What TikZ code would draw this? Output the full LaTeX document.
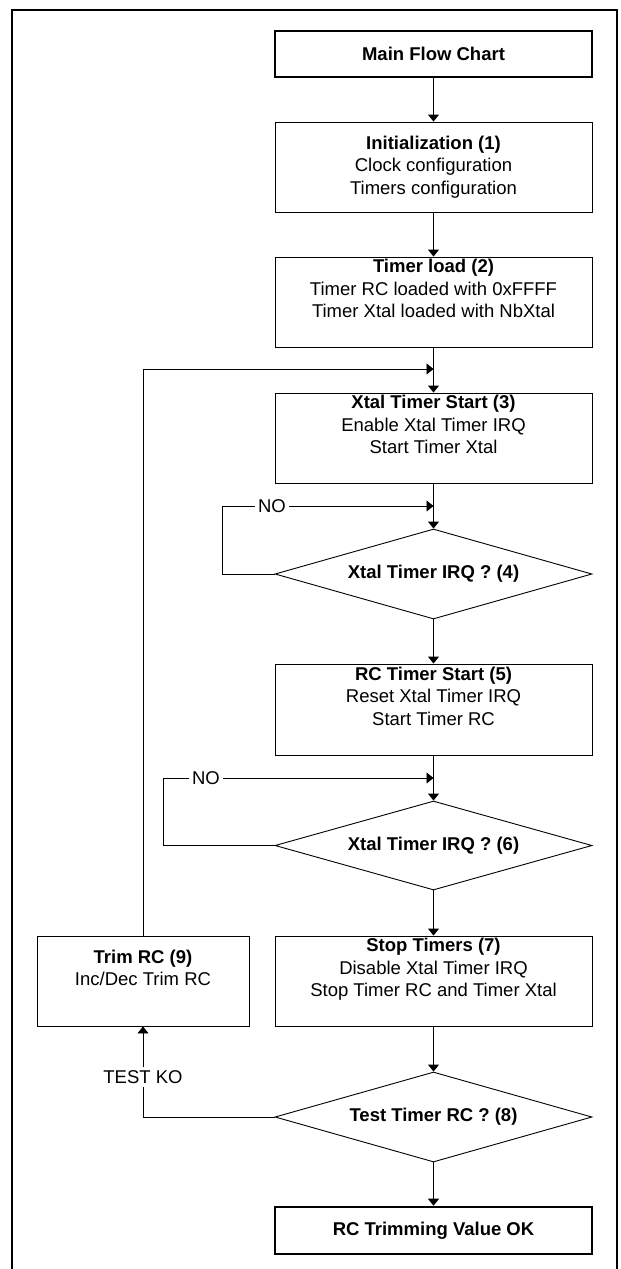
\documentclass[tikz,border=0pt]{standalone}
\usepackage{fontspec}
\setmainfont{Liberation Sans}
\usetikzlibrary{arrows.meta,shapes.geometric}
\tikzset{
  base/.style={font=\fontsize{18.5}{22.5}\selectfont, align=center, inner sep=0pt, draw=black},
  stepbox/.style={base, rectangle, line width=0.9pt, minimum width=317pt, minimum height=90pt},
  termbox/.style={base, rectangle, line width=2.6pt, minimum width=317pt},
  decision/.style={base, diamond, aspect=3.5, line width=0.9pt, minimum width=317pt, minimum height=90pt},
  arr/.style={draw=black, line width=0.9pt, -{Triangle[length=7pt,width=11pt]}},
  wire/.style={draw=black, line width=0.9pt},
  lbl/.style={font=\fontsize{18.5}{22.5}\selectfont, fill=white, inner sep=3pt}
}
\begin{document}
\begin{tikzpicture}[x=1pt,y=-1pt]
\useasboundingbox (0,0) rectangle (621,1269);
% outer frame
\draw[line width=1.5pt] (12,1269) -- (12,10) -- (617,10) -- (617,1269);

\node[termbox, minimum height=46pt] (main) at (433.5,54) {\textbf{Main Flow Chart}};
\node[stepbox] (init) at (433.5,167) {\strut\textbf{Initialization (1)}\\\strut Clock configuration\\\strut Timers configuration};
\node[stepbox] (load) at (433.5,302) {\strut\textbf{Timer load (2)}\\\strut Timer RC loaded with 0xFFFF\\\strut Timer Xtal loaded with NbXtal\\\strut};
\node[stepbox] (xstart) at (433.5,438) {\strut\textbf{Xtal Timer Start (3)}\\\strut Enable Xtal Timer IRQ\\\strut Start Timer Xtal\\\strut};
\node[decision] (d4) at (433.5,574) {\textbf{Xtal Timer IRQ ? (4)}};
\node[stepbox, minimum height=91pt] (rcstart) at (433.5,709.5) {\strut\textbf{RC Timer Start (5)}\\\strut Reset Xtal Timer IRQ\\\strut Start Timer RC\\\strut};
\node[decision, minimum height=89pt] (d6) at (433.5,845.5) {\textbf{Xtal Timer IRQ ? (6)}};
\node[stepbox] (stop) at (433.5,981) {\strut\textbf{Stop Timers (7)}\\\strut Disable Xtal Timer IRQ\\\strut Stop Timer RC and Timer Xtal\\\strut};
\node[stepbox, minimum width=212pt] (trim) at (143,981) {\strut\textbf{Trim RC (9)}\\\strut Inc/Dec Trim RC\\\strut};
\node[decision] (d8) at (433.5,1117) {\textbf{Test Timer RC ? (8)}};
\node[termbox, minimum height=47pt] (final) at (433.5,1230.5) {\textbf{RC Trimming Value OK}};

% junctions
\coordinate (j1) at (433.5,369);
\coordinate (j2) at (433.5,506);
\coordinate (j3) at (433.5,778);
\coordinate (c4) at (222,574);
\coordinate (c6) at (163,845.5);
\coordinate (c8) at (143,1117);

% main flow
\draw[arr] (main) -- (init);
\draw[arr] (init) -- (load);
\draw[arr] (load) -- (xstart);
\draw[arr] (xstart) -- (d4);
\draw[arr] (d4) -- (rcstart);
\draw[arr] (rcstart) -- (d6);
\draw[arr] (d6) -- (stop);
\draw[arr] (stop) -- (d8);
\draw[arr] (d8) -- (final);

% loops
\draw[arr] (trim.north) |- (j1);
\draw[wire] (d4.west) -- (c4);
\draw[arr] (c4) |- (j2);
\draw[wire] (d6.west) -- (c6);
\draw[arr] (c6) |- (j3);
\draw[wire] (d8.west) -- (c8);
\draw[arr] (c8) -- (trim.south);

% labels
\node[lbl] (no1) at (272,506) {NO};
\node[lbl] (no2) at (206,778) {NO};
\node[lbl] (ko) at (143,1077) {TEST KO};
\end{tikzpicture}
\end{document}
